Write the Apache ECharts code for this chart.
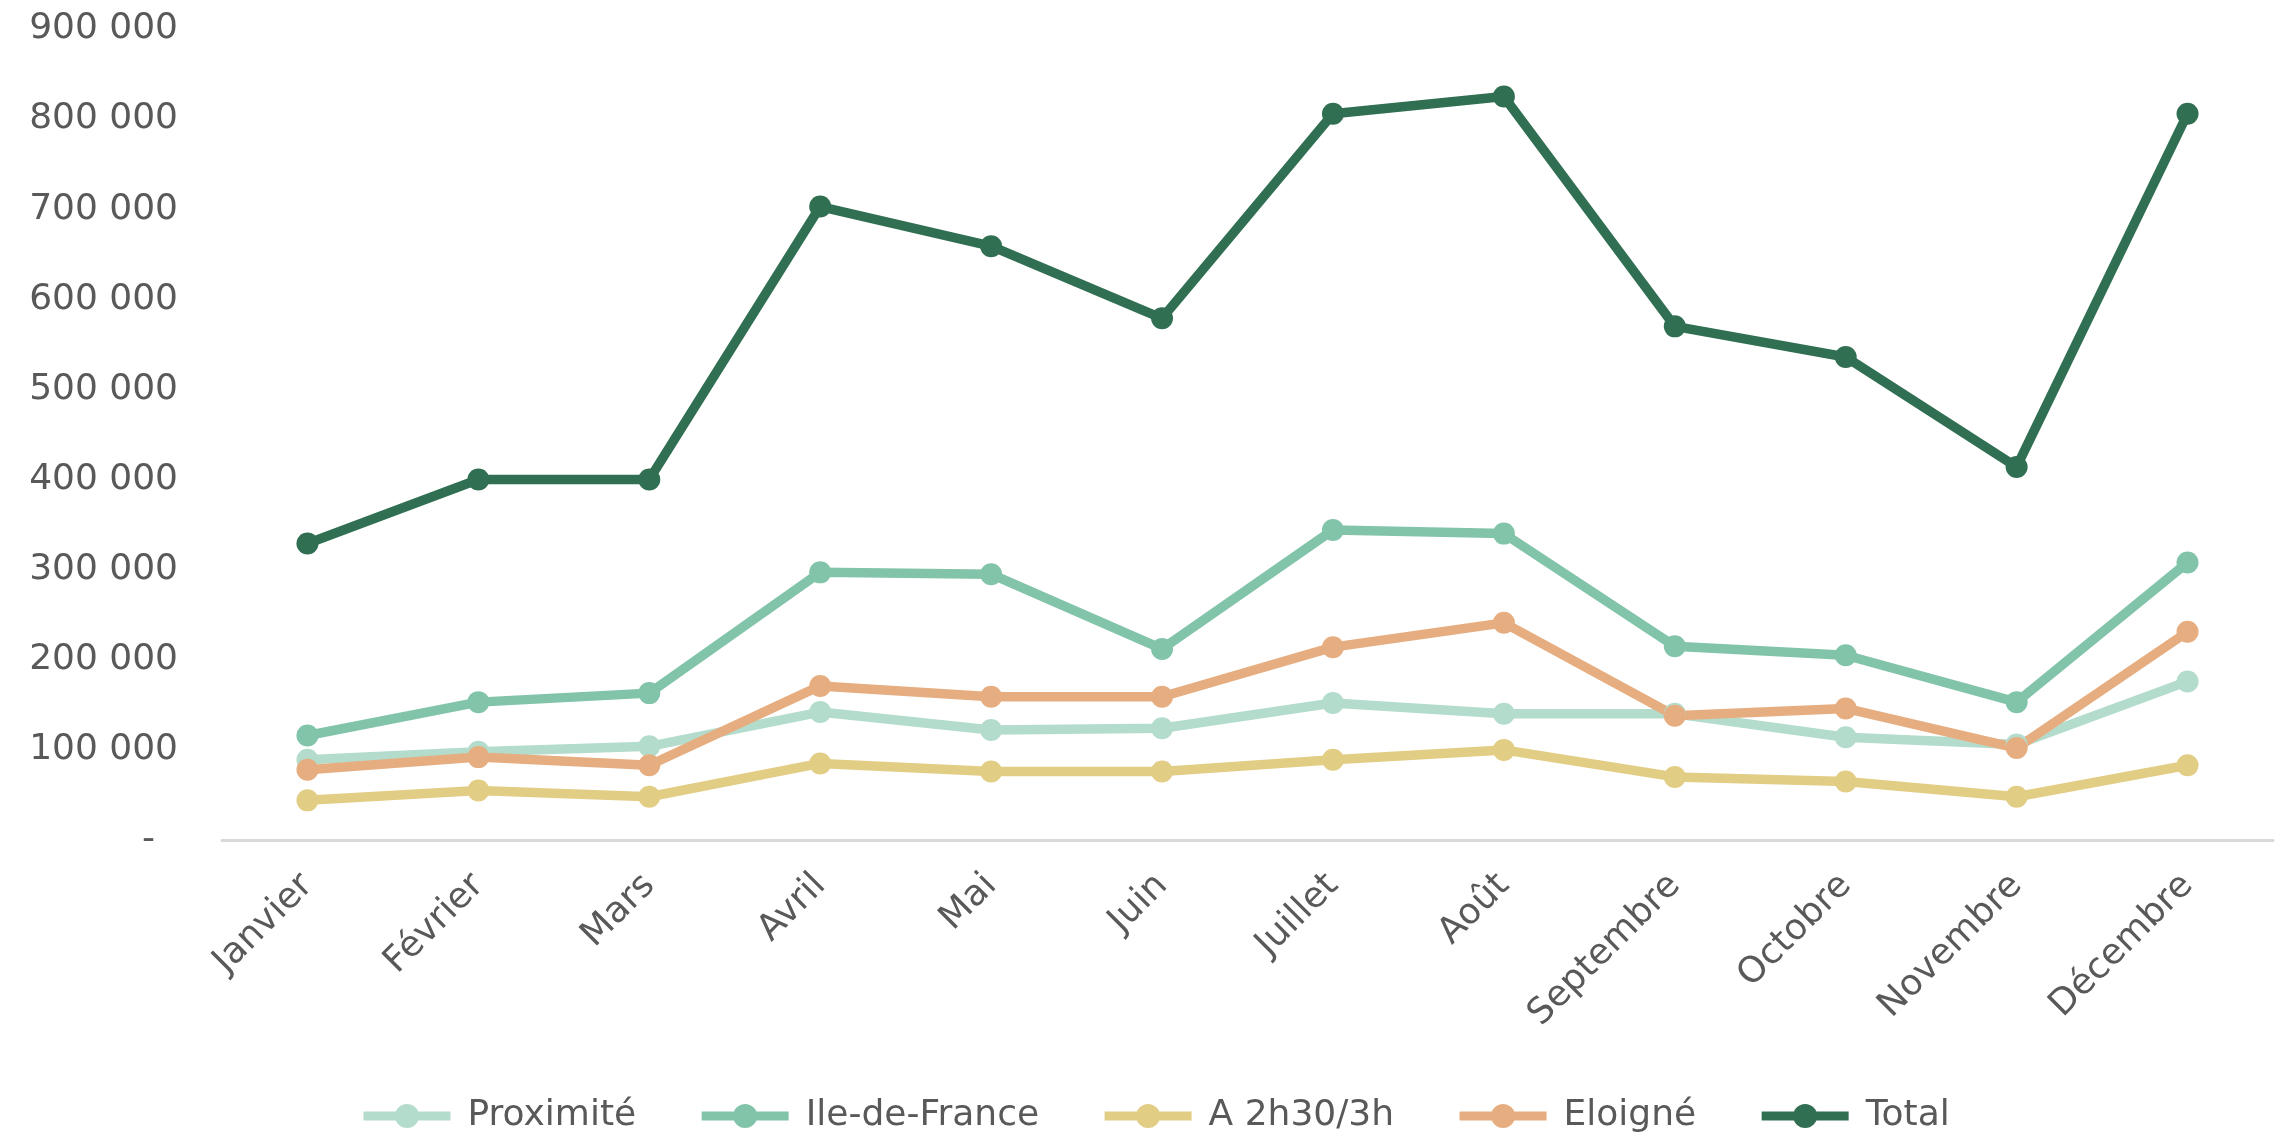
<!DOCTYPE html>
<html>
<head>
<meta charset="utf-8">
<script src="https://cdn.jsdelivr.net/npm/echarts@6/dist/echarts.min.js"></script>
<style>
  html, body { margin: 0; padding: 0; background: #fff; }
  #echars_main { width: 2278px; height: 1133px; }
</style>
</head>
<body>
<div id="echars_main"></div>
<script>
// données
var mois = ['Janvier', 'Février', 'Mars', 'Avril', 'Mai', 'Juin', 'Juillet', 'Août', 'Septembre', 'Octobre', 'Novembre', 'Décembre'];
var proximite = [89000, 98000, 104000, 142000, 122000, 124000, 152000, 140000, 140000, 114000, 106000, 176000];
var ileDeFrance = [116000, 153000, 163000, 297000, 295000, 212000, 344000, 340000, 215000, 205000, 153000, 308000];
var a2h30 = [44000, 55000, 48000, 85000, 76000, 76000, 89000, 100000, 70000, 65000, 48000, 83000];
var eloigne = [78000, 92000, 83000, 171000, 159000, 159000, 214000, 241000, 138000, 146000, 102000, 231000];
var total = [329000, 400000, 400000, 703000, 659000, 579000, 806000, 825000, 570000, 536000, 414000, 806000];

var couleurs = ['#b3dccc', '#82c4aa', '#e2cd85', '#e6ae80', '#316f53'];
var police = 'DejaVu Sans';
var gris = '#595959';

var myChart = echarts.init(document.getElementById('echars_main'));

function serie(nom, data, i) {
  return {
    name: nom,
    type: 'line',
    data: data,
    symbol: 'circle',
    symbolSize: 22,
    lineStyle: { width: 9.5, color: couleurs[i] },
    itemStyle: { color: couleurs[i] },
    animation: false
  };
}

var option = {
  backgroundColor: '#fff',
  grid: { left: 222, right: 5, top: 29, bottom: 293 },
  legend: {
    left: 354,
    top: 1092,
    itemWidth: 87,
    itemHeight: 30,
    itemGap: 61,
    lineStyle: { width: 9 },
    textStyle: { fontFamily: police, fontSize: 36, color: gris, lineHeight: 38, padding: [0, 0, 0, 12] },
    data: ['Proximité', 'Ile-de-France', 'A 2h30/3h', 'Eloigné', 'Total']
  },
  xAxis: {
    type: 'category',
    data: mois,
    boundaryGap: true,
    axisTick: { show: false },
    axisLine: { lineStyle: { color: '#d9d9d9', width: 3 } },
    axisLabel: { rotate: 45, margin: 40, interval: 0, fontFamily: police, fontSize: 36, color: gris }
  },
  yAxis: {
    type: 'value',
    min: 0,
    max: 900000,
    interval: 100000,
    splitLine: { show: false },
    axisLine: { show: false },
    axisTick: { show: false },
    axisLabel: {
      margin: 44,
      fontFamily: police,
      fontSize: 36,
      color: gris,
      formatter: function (v) {
        if (v === 0) return '-  ';
        return String(v).replace(/\B(?=(\d{3})+(?!\d))/g, ' ');
      }
    }
  },
  series: [
    serie('Proximité', proximite, 0),
    serie('Ile-de-France', ileDeFrance, 1),
    serie('A 2h30/3h', a2h30, 2),
    serie('Eloigné', eloigne, 3),
    serie('Total', total, 4)
  ]
};

myChart.setOption(option);
</script>
</body>
</html>
